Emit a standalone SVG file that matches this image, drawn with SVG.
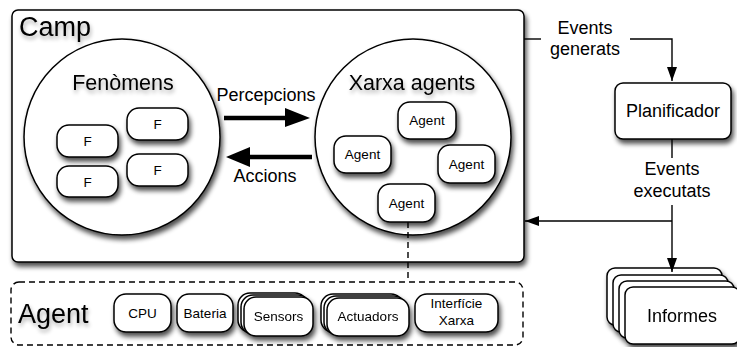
<svg xmlns="http://www.w3.org/2000/svg" width="737" height="347" viewBox="0 0 737 347">
  <defs>
    <filter id="sh" x="-30%" y="-30%" width="170%" height="180%">
      <feGaussianBlur in="SourceAlpha" stdDeviation="2.8"/>
      <feOffset dx="2" dy="4" result="b"/>
      <feComponentTransfer><feFuncA type="linear" slope="0.7"/></feComponentTransfer>
      <feMerge><feMergeNode/><feMergeNode in="SourceGraphic"/></feMerge>
    </filter>
    <filter id="tsh" x="-20%" y="-40%" width="140%" height="200%">
      <feGaussianBlur in="SourceAlpha" stdDeviation="2"/>
      <feOffset dx="1" dy="3" result="b"/>
      <feComponentTransfer><feFuncA type="linear" slope="0.35"/></feComponentTransfer>
      <feMerge><feMergeNode/><feMergeNode in="SourceGraphic"/></feMerge>
    </filter>
    <marker id="ah" viewBox="0 0 14 10" refX="14" refY="5" markerWidth="14" markerHeight="10" markerUnits="userSpaceOnUse" orient="auto">
      <path d="M0,0 L14,5 L0,10 Z" fill="#000"/>
    </marker>
  </defs>
  <style>
    .box { fill: #fff; stroke: #000; stroke-width: 1.5; }
    .sm { font-family: "Liberation Sans", Arial, sans-serif; font-size: 13.5px; text-anchor: middle; fill: #000; }
    .md { font-family: "Liberation Sans", Arial, sans-serif; font-size: 18px; text-anchor: middle; fill: #000; }
    .lg { font-family: "Liberation Sans", Arial, sans-serif; font-size: 21.5px; text-anchor: middle; fill: #000; }
    .xl { font-family: "Liberation Sans", Arial, sans-serif; font-size: 27px; fill: #000; }
    .ln { fill: none; stroke: #000; stroke-width: 1.4; }
    .dash { fill: none; stroke: #000; stroke-width: 1.4; stroke-dasharray: 6 4; }
  </style>

  <rect width="737" height="347" fill="#fff"/>

  <!-- Camp container -->
  <g id="camp">
    <rect class="box" x="12" y="10" width="512" height="252" rx="6" filter="url(#sh)"/>
    <text class="xl" x="19" y="36" filter="url(#tsh)">Camp</text>
  </g>

  <!-- Fenòmens -->
  <g id="fenomens">
    <circle class="box" cx="122" cy="137" r="98" filter="url(#sh)"/>
    <text class="lg" x="123" y="90" filter="url(#tsh)">Fenòmens</text>
  </g>
  <g id="f1"><rect class="box" x="127" y="108" width="61" height="32" rx="12" filter="url(#sh)"/><text class="sm" x="157.5" y="129">F</text></g>
  <g id="f2"><rect class="box" x="57" y="125" width="61" height="32" rx="12" filter="url(#sh)"/><text class="sm" x="87.5" y="146">F</text></g>
  <g id="f3"><rect class="box" x="127" y="154" width="61" height="32" rx="12" filter="url(#sh)"/><text class="sm" x="157.5" y="175">F</text></g>
  <g id="f4"><rect class="box" x="57" y="166" width="61" height="31" rx="12" filter="url(#sh)"/><text class="sm" x="87.5" y="187">F</text></g>

  <!-- Xarxa agents -->
  <g id="xarxa">
    <circle class="box" cx="413" cy="137" r="98" filter="url(#sh)"/>
    <text class="lg" x="412" y="90" filter="url(#tsh)">Xarxa agents</text>
  </g>
  <g id="agent1"><rect class="box" x="398" y="102" width="58" height="37" rx="12" filter="url(#sh)"/><text class="sm" x="427" y="125">Agent</text></g>
  <g id="agent2"><rect class="box" x="334" y="136" width="57" height="37" rx="12" filter="url(#sh)"/><text class="sm" x="362.5" y="159">Agent</text></g>
  <g id="agent3"><rect class="box" x="438" y="145" width="57" height="38" rx="12" filter="url(#sh)"/><text class="sm" x="466.5" y="169">Agent</text></g>
  <g id="agent4"><rect class="box" x="378" y="184" width="57" height="38" rx="12" filter="url(#sh)"/><text class="sm" x="406.5" y="208">Agent</text></g>

  <!-- Planificador -->
  <g id="planificador">
    <rect class="box" x="615" y="83" width="116" height="56" rx="8" filter="url(#sh)"/>
    <text class="md" x="673" y="117">Planificador</text>
  </g>

  <!-- Informes (stacked) -->
  <g id="informes" filter="url(#sh)">
    <rect class="box" x="607" y="268" width="115" height="57" rx="8"/>
    <rect class="box" x="613" y="275" width="115" height="57" rx="8"/>
    <rect class="box" x="619" y="281" width="115" height="57" rx="8"/>
    <rect class="box" x="625" y="287" width="115" height="57" rx="8"/>
    <text class="md" x="682" y="322">Informes</text>
  </g>

  <!-- Agent component breakdown -->
  <g id="agent-detail">
    <rect class="dash" x="11" y="282" width="512" height="63" rx="8"/>
    <text class="xl" x="18" y="323" filter="url(#tsh)">Agent</text>
  </g>
  <g id="cpu"><rect class="box" x="114" y="294" width="57" height="38" rx="12" filter="url(#sh)"/><text class="sm" x="142.5" y="318">CPU</text></g>
  <g id="bateria"><rect class="box" x="177" y="294" width="56" height="38" rx="12" filter="url(#sh)"/><text class="sm" x="205" y="318">Bateria</text></g>
  <g id="sensors" filter="url(#sh)">
    <rect class="box" x="238" y="293" width="69" height="39" rx="12"/>
    <rect class="box" x="241" y="295" width="69" height="39" rx="12"/>
    <rect class="box" x="244" y="297" width="69" height="39" rx="12"/>
    <text class="sm" x="278.5" y="321">Sensors</text>
  </g>
  <g id="actuadors" filter="url(#sh)">
    <rect class="box" x="321" y="294" width="82" height="38" rx="12"/>
    <rect class="box" x="324" y="296" width="82" height="38" rx="12"/>
    <rect class="box" x="327" y="298" width="82" height="38" rx="12"/>
    <text class="sm" x="368" y="321">Actuadors</text>
  </g>
  <g id="interficie"><rect class="box" x="415" y="294" width="83" height="38" rx="12" filter="url(#sh)"/><text class="sm" x="456.5" y="308">Interfície</text><text class="sm" x="456.5" y="325">Xarxa</text></g>

  <!-- Connectors -->
  <g id="connectors">
    <!-- Percepcions -->
    <line x1="224" y1="118" x2="288" y2="118" stroke="#000" stroke-width="4.5"/>
    <polygon points="285,108 310,118 285,127" fill="#000"/>
    <text class="md" x="266" y="101">Percepcions</text>
    <!-- Accions -->
    <line x1="247" y1="157" x2="312" y2="157" stroke="#000" stroke-width="4.5"/>
    <polygon points="250,147 226,157 250,167" fill="#000"/>
    <text class="md" x="265" y="182">Accions</text>
    <!-- Events generats -->
    <path class="ln" d="M524,39 H541"/>
    <path class="ln" d="M630,39 H672 V81" marker-end="url(#ah)"/>
    <text class="md" x="585" y="34">Events</text>
    <text class="md" x="585" y="55">generats</text>
    <!-- Events executats -->
    <path class="ln" d="M672,139 V158"/>
    <text class="md" x="672" y="175">Events</text>
    <text class="md" x="672" y="197">executats</text>
    <path class="ln" d="M672,205 V272" marker-end="url(#ah)"/>
    <path class="ln" d="M672,221 H525" marker-end="url(#ah)"/>
    <!-- Agent detail link -->
    <path class="dash" d="M408,222 V282"/>
  </g>
</svg>
